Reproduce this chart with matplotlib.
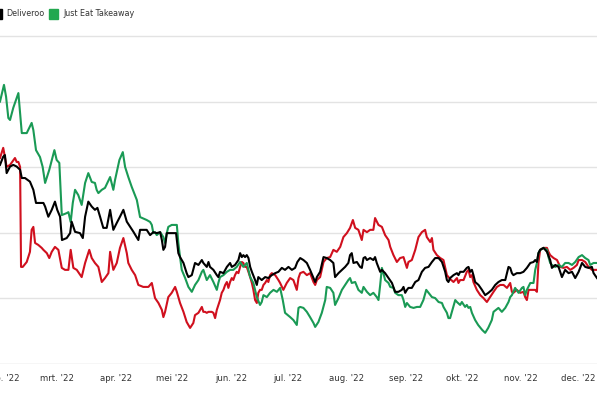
import matplotlib
matplotlib.use("Agg")
import matplotlib.pyplot as plt
import matplotlib.patches as mpatches
from matplotlib.ticker import FixedLocator, FixedFormatter
from matplotlib import font_manager as fm
import pandas as pd
import matplotlib.dates as mdates

# ---- data (day-of-year 2022, value) ----
green_day = [29.0, 31.1, 32.2, 33.4, 34.3, 36.0, 38.7, 40.5, 43.1, 45.7, 46.6, 48.0, 50.1, 51.5, 52.8, 55.0,
             57.7, 58.9, 60.3, 61.6, 64.2, 65.1, 66.3, 67.4, 68.6, 70.3, 72.1, 73.9, 75.6, 77.4, 79.1, 80.0,
             80.9, 82.7, 84.4, 87.1, 88.8, 89.7, 92.0, 93.8, 95.0, 96.7, 98.5, 101.2, 102.9, 106.4, 108.2,
             109.1, 109.9, 110.8, 111.7, 113.5, 115.2, 116.1, 117.0, 117.8, 119.6, 122.3, 123.1, 124.0, 124.9,
             126.7, 128.4, 130.2, 131.9, 133.7, 135.5, 136.3, 138.1, 139.8, 141.6, 143.4, 144.2, 145.1, 146.9,
             148.7, 150.4, 152.1, 153.9, 155.7, 157.4, 159.2, 160.1, 161.0, 162.7, 164.5, 166.2, 167.1, 168.0,
             169.8, 171.5, 173.3, 175.1, 176.8, 178.2, 179.4, 182.1, 183.8, 185.6, 186.5, 187.4,
             189.1, 190.9, 192.6, 194.4, 195.3, 197.0, 198.8, 200.6, 201.4, 203.2, 204.9, 205.8, 207.6, 209.4,
             211.1, 212.8, 213.7, 214.6, 216.4, 218.1, 219.9, 220.8, 222.6, 224.3, 226.0, 227.8, 228.7, 229.6,
             230.5, 231.3, 232.2, 234.0, 234.9, 236.6, 237.5, 239.2, 241.0, 241.9, 242.8, 243.7, 245.4, 247.2,
             249.0, 250.7, 252.4, 253.9, 255.1, 256.9, 258.6, 260.4, 262.2, 263.0, 264.8, 265.6, 266.5,
             269.2, 270.1, 271.8, 272.7, 274.4, 275.3, 276.2, 277.1, 278.0, 279.7, 281.3, 283.4, 285.0, 286.6,
             288.5, 289.4, 292.0, 293.8, 295.6, 297.3, 298.2, 299.1, 300.8, 302.6, 304.4, 305.2, 306.1, 307.0,
             308.8, 310.5, 311.4, 312.3, 313.1, 314.0, 315.8, 317.6, 318.4, 319.3, 320.2, 322.0, 323.7, 325.5,
             327.2, 329.0, 330.8, 332.5, 334.3, 336.1, 337.8, 339.5, 340.4, 342.2, 344.0]
green_val = [80.0, 85.1, 81.5, 75.0, 74.4, 78.1, 82.6, 70.4, 70.4, 73.5, 71.3, 65.2, 63.1, 60.1, 55.2, 59.2,
             65.2, 62.2, 61.3, 45.4, 46.0, 46.3, 43.3, 49.1, 53.1, 51.5, 48.5, 55.2, 58.2, 55.5, 55.2, 53.1,
             52.1, 53.1, 53.7, 57.0, 53.1, 56.1, 62.2, 64.6, 60.1, 57.0, 54.0, 50.0, 44.8, 43.9, 43.3,
             42.4, 39.9, 40.2, 39.3, 40.2, 38.7, 36.9, 39.9, 41.8, 42.4, 42.4, 36.9, 32.6, 28.7,
             26.2, 23.5, 22.0, 24.1, 25.6, 28.1, 28.7, 25.6, 27.1, 25.0, 22.6, 24.7, 26.5, 27.1,
             28.1, 28.7, 28.7, 29.6, 31.1, 29.6, 30.8, 28.7, 26.5, 24.7, 20.4, 18.0, 18.9, 21.0,
             20.4, 21.7, 22.6, 22.0, 23.2, 19.5, 15.6, 14.3, 13.4, 11.9, 17.1, 17.4,
             17.1, 15.9, 14.3, 12.5, 11.3, 12.8, 15.6, 19.5, 23.5, 23.2, 21.7, 18.0, 20.1, 22.6,
             24.1, 25.6, 26.2, 24.7, 25.0, 22.6, 21.7, 23.5, 22.0, 21.0, 21.7, 20.4, 19.5, 24.1,
             29.3, 27.7, 25.6, 24.7, 23.5, 23.2, 21.7, 21.0, 21.0, 19.5, 17.4, 18.6, 17.4, 17.1,
             17.4, 17.4, 19.5, 22.6, 21.7, 20.4, 20.1, 18.9, 18.6, 17.4, 15.6, 14.0, 14.0,
             19.5, 18.9, 18.0, 18.9, 17.4, 18.0, 17.1, 17.4, 15.6, 13.4, 11.9, 10.4, 9.5, 11.0,
             13.4, 15.9, 17.1, 15.9, 17.1, 18.9, 20.4, 21.0, 23.2, 21.7, 23.2, 23.5, 21.0, 22.6,
             24.7, 24.7, 28.7, 30.8, 33.8, 34.8, 35.4, 34.8, 32.6, 30.8, 30.2, 29.6, 30.2, 29.6,
             30.8, 30.8, 30.2, 31.1, 32.6, 33.2, 32.3, 31.7, 30.2, 30.8, 30.8]

black_day = [29.0, 30.7, 31.6, 32.5, 34.3, 36.0, 37.8, 39.6, 40.5, 42.2, 44.8, 46.6, 48.0, 50.1, 51.9, 52.8,
             54.5, 56.3, 58.0, 59.2, 60.7, 61.7, 64.2, 66.0, 66.8, 68.6, 71.2, 72.7, 73.9, 75.6, 77.4, 79.1,
             80.4, 81.8, 83.5, 85.3, 87.1, 88.8, 90.6, 92.3, 94.1, 95.9, 97.6, 99.4, 102.0, 102.9, 106.4, 108.2,
             109.9, 111.7, 113.5, 114.4, 115.2, 116.1, 117.0, 118.7, 120.5, 121.9, 123.1, 124.0, 125.8, 127.5,
             128.4, 130.2, 131.9, 133.7, 135.5, 136.3, 138.1, 139.0, 139.8, 141.6, 143.4, 144.2, 145.1, 146.9,
             148.7, 150.4, 151.3, 153.0, 154.8, 155.7, 156.6, 157.4, 158.3, 159.2, 160.1, 161.0, 161.9, 163.6,
             164.5, 165.3, 167.1, 168.9, 170.6, 172.4, 174.2, 175.9, 177.7, 179.4, 181.2, 183.0, 184.7, 185.9,
             187.4, 189.1, 190.9, 192.6, 194.4, 195.3, 196.2, 197.9, 199.7, 201.4, 203.2, 204.9, 205.8, 207.6,
             209.4, 211.1, 212.8, 213.7, 214.6, 215.5, 217.3, 219.0, 219.9, 220.8, 221.7, 222.6, 224.3, 226.0,
             226.9, 227.8, 229.6, 230.5, 232.2, 234.0, 235.8, 237.5, 239.2, 241.0, 241.9, 242.8, 243.7, 244.5,
             246.3, 248.1, 249.8, 251.6, 253.3, 255.1, 256.9, 258.6, 260.4, 262.2, 263.9, 264.8, 265.6, 266.5,
             268.3, 270.1, 270.9, 271.8, 273.6, 275.3, 276.2, 277.1, 278.0, 278.8, 279.7, 281.5, 283.3, 285.0,
             286.7, 288.5, 290.3, 292.0, 293.8, 295.6, 297.3, 298.2, 299.1, 299.9, 301.7, 303.5, 305.2, 307.0,
             308.8, 310.5, 311.4, 312.3, 313.1, 314.0, 315.8, 317.6, 319.3, 320.2, 322.0, 323.7, 325.5, 327.2,
             329.0, 330.8, 332.5, 334.3, 336.1, 337.8, 339.5, 341.3, 342.2, 344.0]
black_val = [60.7, 63.2, 63.7, 58.2, 60.2, 60.7, 60.2, 59.2, 56.7, 56.7, 55.6, 53.1, 49.1, 49.1, 49.1, 48.0,
             44.9, 47.0, 49.5, 47.0, 44.9, 37.8, 38.4, 39.9, 43.4, 40.3, 39.9, 38.4, 44.9, 49.5, 48.0, 47.0,
             47.6, 44.9, 41.5, 41.5, 47.0, 40.9, 43.0, 44.9, 47.0, 43.4, 41.9, 40.3, 37.8, 40.9, 40.9, 39.3,
             40.2, 39.9, 40.2, 37.8, 34.8, 35.7, 39.9, 39.9, 39.9, 39.9, 33.8, 32.6, 30.8, 27.7,
             26.5, 27.1, 30.8, 30.2, 31.7, 30.8, 29.6, 31.1, 29.6, 28.7, 27.1, 26.5, 28.1, 27.7,
             29.6, 30.8, 29.6, 30.2, 31.7, 33.8, 32.6, 33.2, 32.6, 33.2, 32.3, 29.6, 28.1, 25.6,
             24.1, 26.5, 25.6, 26.5, 26.2, 27.1, 27.7, 28.1, 29.3, 28.7, 29.6, 28.7, 29.3, 31.1,
             32.3, 31.7, 30.8, 28.7, 26.2, 25.0, 26.5, 28.1, 32.6, 32.3, 31.7, 30.8, 26.5, 27.7,
             28.7, 29.6, 30.8, 33.2, 33.8, 30.8, 31.1, 29.6, 29.3, 32.3, 32.6, 31.7, 32.3, 31.7,
             32.6, 30.8, 28.1, 28.7, 27.7, 26.2, 24.7, 22.0, 22.0, 22.6, 23.5, 21.7, 22.6, 23.2,
             23.2, 25.0, 25.6, 28.1, 29.3, 29.6, 31.1, 32.3, 32.3, 31.1, 28.1, 25.6, 25.0, 26.2,
             27.1, 27.7, 27.1, 28.1, 28.1, 29.3, 29.6, 28.1, 28.7, 27.1, 25.0, 24.1, 22.6, 21.0,
             21.7, 22.6, 24.1, 25.0, 25.6, 25.6, 29.6, 29.3, 27.7, 27.1, 27.7, 27.7, 28.1, 29.3,
             30.8, 31.1, 31.7, 31.1, 33.8, 34.8, 35.4, 34.2, 31.7, 29.3, 30.2, 29.6, 26.5, 28.7,
             27.7, 28.1, 26.2, 28.1, 30.8, 29.6, 29.3, 29.6, 27.7, 26.2]

red_day = [29.0, 30.7, 31.6, 32.5, 34.3, 36.9, 37.8, 38.7, 39.6, 40.1, 41.0, 43.1, 44.8, 45.7, 46.6, 47.5,
           49.2, 51.0, 51.9, 53.7, 55.0, 56.3, 58.0, 59.8, 61.6, 63.3, 65.1, 66.3, 67.7, 69.5, 72.1, 73.9,
           76.1, 77.4, 79.1, 80.9, 82.7, 84.4, 86.2, 87.1, 88.8, 90.6, 92.3, 94.1, 95.9, 96.7, 98.5, 100.3,
           102.0, 104.6, 107.3, 108.2, 109.1, 109.9, 110.8, 112.6, 114.4, 115.2, 116.1, 117.8, 119.6, 121.4,
           122.3, 124.0, 125.8, 127.5, 129.3, 131.0, 131.9, 133.7, 135.5, 136.3, 137.2, 138.1, 139.0, 140.7,
           141.6, 142.5, 143.4, 145.1, 146.0, 146.9, 147.8, 148.7, 149.5, 150.4, 151.3, 152.1, 153.0, 153.9,
           154.8, 155.7, 156.6, 157.4, 158.3, 159.2, 160.1, 161.0, 161.9, 162.7, 163.6, 164.5, 165.3, 166.2,
           167.1, 168.0, 168.9, 169.8, 170.6, 171.5, 172.4, 174.2, 175.9, 176.8, 178.5, 180.3, 182.1, 183.8,
           185.6, 186.5, 187.4, 189.1, 190.9, 192.6, 194.4, 195.3, 196.2, 197.9, 199.7, 201.4, 203.2, 204.9,
           206.7, 208.5, 210.2, 212.0, 213.7, 215.2, 216.4, 218.1, 219.9, 220.8, 222.6, 224.3, 226.0, 226.9,
           228.7, 230.5, 232.2, 234.0, 234.9, 236.6, 238.4, 240.1, 241.9, 243.7, 244.5, 246.3, 248.1, 249.8,
           251.6, 253.3, 254.2, 256.0, 256.9, 257.7, 259.5, 261.3, 263.0, 264.8, 266.5, 268.3, 270.1, 270.9,
           271.8, 273.6, 275.3, 276.2, 277.1, 278.0, 278.8, 280.6, 282.4, 284.1, 285.9, 287.6, 289.4, 291.2,
           292.9, 294.7, 296.5, 298.2, 299.1, 299.9, 301.7, 303.5, 305.2, 306.1, 307.0, 307.9, 309.7, 311.4,
           312.3, 313.1, 314.0, 315.8, 317.6, 318.4, 319.3, 321.1, 322.9, 324.6, 326.3, 328.1, 329.9, 331.6,
           333.4, 334.3, 336.1, 337.8, 339.5, 341.3, 344.0]
red_val = [62.8, 65.9, 63.1, 60.1, 60.7, 62.8, 61.6, 61.6, 60.1, 29.6, 29.6, 31.1, 34.2, 40.9, 41.8, 36.9,
           36.3, 35.4, 34.8, 33.8, 32.3, 34.2, 35.7, 34.8, 29.3, 28.7, 28.7, 34.8, 29.3, 28.7, 26.5, 30.8,
           34.8, 32.3, 30.8, 29.6, 25.0, 26.2, 27.7, 34.2, 28.7, 30.8, 35.4, 38.4, 33.8, 30.8, 28.7, 27.1,
           24.1, 23.5, 23.5, 24.1, 24.7, 22.6, 20.1, 18.6, 16.5, 14.3, 15.9, 20.4, 21.7, 23.5,
           22.0, 18.6, 15.9, 12.8, 11.0, 12.5, 14.9, 15.6, 17.4, 15.9, 15.9, 15.6, 15.9, 15.9,
           15.6, 14.0, 16.5, 19.5, 21.7, 22.6, 24.1, 25.0, 23.2, 25.0, 26.2, 25.6, 27.1, 28.1,
           27.7, 29.6, 31.1, 30.8, 29.6, 29.6, 28.1, 26.5, 24.7, 22.6, 19.5, 18.6, 21.7, 22.6,
           22.6, 24.1, 24.7, 25.6, 25.0, 27.1, 27.7, 27.1, 25.6, 24.7, 22.6, 24.7, 26.2, 25.6,
           22.6, 26.2, 27.7, 28.1, 27.1, 27.7, 25.0, 24.1, 25.6, 26.5, 31.1, 32.3, 32.6, 34.8,
           34.2, 35.7, 38.7, 39.9, 41.5, 43.9, 41.5, 40.9, 37.8, 40.9, 40.2, 40.9, 40.9, 44.5,
           42.4, 41.8, 39.3, 37.8, 35.7, 33.2, 31.1, 32.3, 32.6, 29.3, 31.1, 31.7, 34.8, 38.7,
           40.2, 40.9, 38.7, 37.2, 38.4, 34.8, 33.2, 32.3, 31.7, 27.1, 25.9, 25.0, 26.2, 24.7,
           25.6, 25.6, 28.1, 28.7, 26.5, 27.1, 25.0, 22.6, 21.0, 20.1, 18.9, 20.4, 22.0, 23.5,
           24.1, 24.1, 23.2, 24.7, 22.0, 21.7, 22.6, 21.7, 22.0, 20.4, 19.5, 22.6, 22.6, 22.6,
           22.0, 30.8, 34.8, 35.4, 35.4, 34.2, 33.2, 32.3, 31.7, 29.6, 29.3, 29.6, 28.7, 29.3,
           30.2, 31.7, 31.7, 31.1, 29.6, 28.7, 28.7]

series_names = ["Delivery Hero", "Deliveroo", "Just Eat Takeaway"]
series_colors = ["#d0101e", "#000000", "#1a9a55"]
month_starts = ["2022-02-01", "2022-03-01", "2022-04-01", "2022-05-01", "2022-06-01", "2022-07-01",
                "2022-08-01", "2022-09-01", "2022-10-01", "2022-11-01", "2022-12-01"]
month_labels = ["feb. '22", "mrt. '22", "apr. '22", "mei '22", "jun. '22", "jul. '22",
                "aug. '22", "sep. '22", "okt. '22", "nov. '22", "dec. '22"]
y_grid = [0, 20, 40, 60, 80, 100]

base = pd.Timestamp("2022-01-01")
def to_dates(days):
    return [base + pd.Timedelta(days=d) for d in days]

# ---- pick a narrow font if one is installed ----
fonts = fm.fontManager.ttflist
names = {f.name for f in fonts}
if "Liberation Sans Narrow" in names:
    FONT, STRETCH, TICK_FS, LEG_FS, WEIGHT = ["Liberation Sans Narrow", "DejaVu Sans"], "normal", 7.8, 7.3, "normal"
elif any(f.name == "DejaVu Sans" and f.stretch == "condensed" for f in fonts):
    FONT, STRETCH, TICK_FS, LEG_FS, WEIGHT = ["DejaVu Sans"], "condensed", 6.8, 6.4, "normal"
else:
    FONT, STRETCH, TICK_FS, LEG_FS, WEIGHT = ["Roboto", "DejaVu Sans"], "normal", 6.5, 6.2, "medium"

W, H = 597, 398
fig = plt.figure(figsize=(W / 100, H / 100), dpi=100)
ax = fig.add_axes([0, 34 / H, 1, 364 / H])

for yv in y_grid:
    ax.axhline(yv, color="#e3e3e3" if yv else "#d6d6d6", lw=1.0, zorder=0)

ax.plot(to_dates(red_day), red_val, color=series_colors[0], lw=1.5, zorder=3)
ax.plot(to_dates(green_day), green_val, color=series_colors[2], lw=1.5, zorder=4)
ax.plot(to_dates(black_day), black_val, color=series_colors[1], lw=1.5, zorder=5)

ax.set_xlim(pd.Timestamp("2022-01-30"), pd.Timestamp("2022-12-11"))
ax.set_ylim(0, 364 / 65.6 * 20)
ticks = [mdates.date2num(pd.Timestamp(m)) for m in month_starts]
ax.xaxis.set_major_locator(FixedLocator(ticks))
ax.xaxis.set_major_formatter(FixedFormatter(month_labels))
ax.tick_params(axis="x", length=0, pad=7, labelsize=TICK_FS, labelcolor="#333333")
for lab in ax.get_xticklabels():
    lab.set_family(FONT)
    lab.set_stretch(STRETCH)
    lab.set_weight(WEIGHT)
ax.set_yticks([])
for s in ax.spines.values():
    s.set_visible(False)
ax.patch.set_alpha(0)

# ---- legend (partially cropped on the left, as in the reference) ----
def px(x, y):
    return x / W, 1 - y / H

renderer = fig.canvas.get_renderer()
fig.patches.append(mpatches.Rectangle(px(-7.5, 18.5), 9 / W, 9 / H, transform=fig.transFigure,
                                      color=series_colors[1], clip_on=False))
t1 = fig.text(*px(6, 14), series_names[1], family=FONT, stretch=STRETCH, weight=WEIGHT,
              fontsize=LEG_FS, color="#333333", va="center", ha="left")
x_end = t1.get_window_extent(renderer).x1
sq_x = max(45, x_end + 5)
fig.patches.append(mpatches.Rectangle(px(sq_x, 18.5), 9 / W, 9 / H, transform=fig.transFigure,
                                      color="#22a84f", clip_on=False))
fig.text(*px(sq_x + 14, 14), series_names[2], family=FONT, stretch=STRETCH, weight=WEIGHT,
         fontsize=LEG_FS, color="#333333", va="center", ha="left")

fig.savefig("out.png", dpi=100)
